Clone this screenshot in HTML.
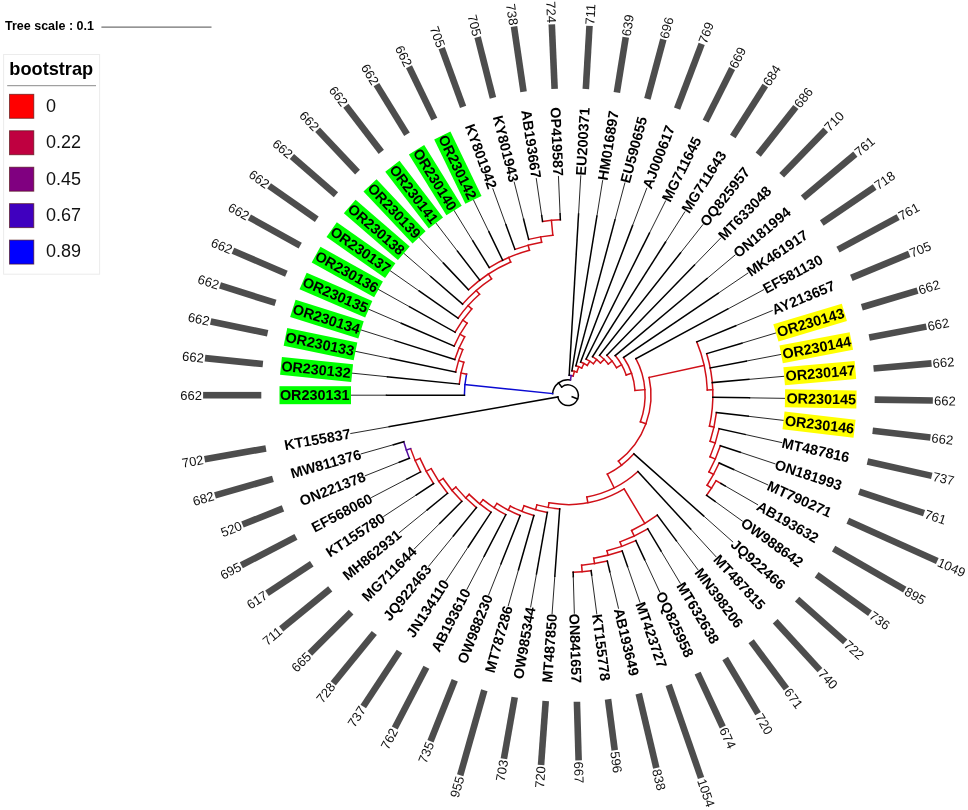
<!DOCTYPE html>
<html><head><meta charset="utf-8"><title>Tree</title>
<style>
html,body{margin:0;padding:0;background:#fff;}
svg{display:block;}
text{font-family:"Liberation Sans",Arial,Helvetica,sans-serif;fill:#000;}
.lab{font-size:14.4px;font-weight:bold;}
.val{font-size:13.0px;fill:#111;}
.ts{font-size:12.5px;font-weight:bold;}
.lt{font-size:18.2px;font-weight:bold;}
.ll{font-size:18px;fill:#111;}
</style></head><body>
<svg width="968" height="810" viewBox="0 0 968 810">
<rect width="968" height="810" fill="#fff"/>
<g stroke-linecap="square">
<path d="M561.73 387.03A10.30 10.30 0 1 1 557.86 396.99" fill="none" stroke="#000" stroke-width="1.5"/>
<line x1="561.73" y1="387.03" x2="558.57" y2="382.90" stroke="#000" stroke-width="1.5"/>
<path d="M552.58 393.62A15.50 15.50 0 0 1 570.47 379.90" fill="none" stroke="#000" stroke-width="1.5"/>
<line x1="552.58" y1="393.62" x2="464.94" y2="384.64" stroke="#0a0ad2" stroke-width="1.5"/>
<path d="M464.40 395.20A103.60 103.60 0 0 1 466.55 374.19" fill="none" stroke="#0a0ad2" stroke-width="1.5"/>
<line x1="464.40" y1="395.20" x2="386.50" y2="395.20" stroke="#000" stroke-width="1.5"/>
<line x1="386.50" y1="395.20" x2="351.00" y2="395.20" stroke="#111" stroke-width="0.9"/>
<line x1="466.55" y1="374.19" x2="460.97" y2="373.04" stroke="#d01018" stroke-width="1.5"/>
<path d="M459.27 384.09A109.30 109.30 0 0 1 463.80 362.21" fill="none" stroke="#d01018" stroke-width="1.5"/>
<line x1="459.27" y1="384.09" x2="387.44" y2="376.75" stroke="#000" stroke-width="1.5"/>
<line x1="387.44" y1="376.75" x2="352.12" y2="373.15" stroke="#111" stroke-width="0.9"/>
<line x1="463.80" y1="362.21" x2="458.65" y2="360.58" stroke="#d01018" stroke-width="1.5"/>
<path d="M455.67 372.01A114.70 114.70 0 0 1 462.78 349.53" fill="none" stroke="#d01018" stroke-width="1.5"/>
<line x1="455.67" y1="372.01" x2="390.25" y2="358.50" stroke="#000" stroke-width="1.5"/>
<line x1="390.25" y1="358.50" x2="355.48" y2="351.32" stroke="#111" stroke-width="0.9"/>
<line x1="462.78" y1="349.53" x2="459.12" y2="347.94" stroke="#d01018" stroke-width="1.5"/>
<path d="M454.79 359.51A118.70 118.70 0 0 1 464.62 336.88" fill="none" stroke="#d01018" stroke-width="1.5"/>
<line x1="454.79" y1="359.51" x2="394.90" y2="340.62" stroke="#000" stroke-width="1.5"/>
<line x1="394.90" y1="340.62" x2="361.04" y2="329.95" stroke="#111" stroke-width="0.9"/>
<line x1="464.62" y1="336.88" x2="460.00" y2="334.27" stroke="#d01018" stroke-width="1.5"/>
<path d="M454.14 346.09A124.00 124.00 0 0 1 467.08 323.15" fill="none" stroke="#d01018" stroke-width="1.5"/>
<line x1="454.14" y1="346.09" x2="401.34" y2="323.31" stroke="#000" stroke-width="1.5"/>
<line x1="401.34" y1="323.31" x2="368.75" y2="309.25" stroke="#111" stroke-width="0.9"/>
<line x1="467.08" y1="323.15" x2="462.77" y2="320.07" stroke="#d01018" stroke-width="1.5"/>
<path d="M455.09 332.19A129.30 129.30 0 0 1 471.73 308.88" fill="none" stroke="#d01018" stroke-width="1.5"/>
<line x1="455.09" y1="332.19" x2="409.51" y2="306.75" stroke="#000" stroke-width="1.5"/>
<line x1="409.51" y1="306.75" x2="378.51" y2="289.44" stroke="#111" stroke-width="0.9"/>
<line x1="471.73" y1="308.88" x2="468.08" y2="305.61" stroke="#d01018" stroke-width="1.5"/>
<path d="M458.07 318.23A134.20 134.20 0 0 1 479.54 294.28" fill="none" stroke="#d01018" stroke-width="1.5"/>
<line x1="458.07" y1="318.23" x2="419.32" y2="291.10" stroke="#000" stroke-width="1.5"/>
<line x1="419.32" y1="291.10" x2="390.24" y2="270.73" stroke="#111" stroke-width="0.9"/>
<line x1="479.54" y1="294.28" x2="476.18" y2="290.45" stroke="#d01018" stroke-width="1.5"/>
<path d="M462.60 304.12A139.30 139.30 0 0 1 491.51 278.78" fill="none" stroke="#d01018" stroke-width="1.5"/>
<line x1="462.60" y1="304.12" x2="430.67" y2="276.52" stroke="#000" stroke-width="1.5"/>
<line x1="430.67" y1="276.52" x2="403.81" y2="253.31" stroke="#111" stroke-width="0.9"/>
<line x1="491.51" y1="278.78" x2="488.38" y2="274.02" stroke="#d01018" stroke-width="1.5"/>
<path d="M468.49 289.73A145.00 145.00 0 0 1 510.69 262.01" fill="none" stroke="#d01018" stroke-width="1.5"/>
<line x1="468.49" y1="289.73" x2="443.45" y2="263.18" stroke="#000" stroke-width="1.5"/>
<line x1="443.45" y1="263.18" x2="419.09" y2="237.36" stroke="#111" stroke-width="0.9"/>
<line x1="479.73" y1="280.16" x2="457.51" y2="251.21" stroke="#000" stroke-width="1.5"/>
<line x1="457.51" y1="251.21" x2="435.90" y2="223.04" stroke="#111" stroke-width="0.9"/>
<line x1="510.69" y1="262.01" x2="508.71" y2="257.41" stroke="#d01018" stroke-width="1.5"/>
<path d="M489.25 267.53A150.00 150.00 0 0 1 529.44 250.24" fill="none" stroke="#d01018" stroke-width="1.5"/>
<line x1="489.25" y1="267.53" x2="472.72" y2="240.72" stroke="#000" stroke-width="1.5"/>
<line x1="472.72" y1="240.72" x2="454.08" y2="210.51" stroke="#111" stroke-width="0.9"/>
<line x1="502.64" y1="260.19" x2="488.91" y2="231.84" stroke="#000" stroke-width="1.5"/>
<line x1="488.91" y1="231.84" x2="473.44" y2="199.89" stroke="#111" stroke-width="0.9"/>
<line x1="529.44" y1="250.24" x2="528.10" y2="245.22" stroke="#d01018" stroke-width="1.5"/>
<path d="M514.92 249.36A155.20 155.20 0 0 1 541.61 242.26" fill="none" stroke="#d01018" stroke-width="1.5"/>
<line x1="514.92" y1="249.36" x2="505.92" y2="224.65" stroke="#000" stroke-width="1.5"/>
<line x1="505.92" y1="224.65" x2="492.84" y2="188.70" stroke="#111" stroke-width="0.9"/>
<line x1="541.61" y1="242.26" x2="540.67" y2="236.84" stroke="#d01018" stroke-width="1.5"/>
<path d="M528.67 239.39A160.70 160.70 0 0 1 552.83 235.22" fill="none" stroke="#d01018" stroke-width="1.5"/>
<line x1="528.67" y1="239.39" x2="523.58" y2="219.22" stroke="#000" stroke-width="1.5"/>
<line x1="523.58" y1="219.22" x2="514.22" y2="182.13" stroke="#111" stroke-width="0.9"/>
<line x1="552.83" y1="235.22" x2="551.42" y2="220.38" stroke="#d01018" stroke-width="1.5"/>
<path d="M542.55 221.45A175.60 175.60 0 0 1 560.34 219.77" fill="none" stroke="#d01018" stroke-width="1.5"/>
<line x1="542.55" y1="221.45" x2="541.69" y2="215.62" stroke="#000" stroke-width="1.5"/>
<line x1="541.69" y1="215.62" x2="536.27" y2="178.56" stroke="#111" stroke-width="0.9"/>
<line x1="560.34" y1="219.77" x2="560.08" y2="213.87" stroke="#000" stroke-width="1.5"/>
<line x1="560.08" y1="213.87" x2="558.45" y2="176.46" stroke="#111" stroke-width="0.9"/>
<line x1="570.47" y1="379.90" x2="571.18" y2="375.56" stroke="#520c9e" stroke-width="1.5"/>
<path d="M569.16 375.33A19.90 19.90 0 0 1 573.16 375.98" fill="none" stroke="#520c9e" stroke-width="1.5"/>
<line x1="569.16" y1="375.33" x2="578.55" y2="214.01" stroke="#000" stroke-width="1.5"/>
<line x1="578.55" y1="214.01" x2="580.78" y2="175.82" stroke="#111" stroke-width="0.9"/>
<line x1="573.16" y1="375.98" x2="574.41" y2="371.35" stroke="#d01018" stroke-width="1.5"/>
<path d="M571.93 370.82A24.70 24.70 0 0 1 576.81 372.13" fill="none" stroke="#d01018" stroke-width="1.5"/>
<line x1="571.93" y1="370.82" x2="596.91" y2="216.02" stroke="#000" stroke-width="1.5"/>
<line x1="596.91" y1="216.02" x2="602.63" y2="180.62" stroke="#111" stroke-width="0.9"/>
<line x1="576.81" y1="372.13" x2="578.85" y2="366.80" stroke="#d01018" stroke-width="1.5"/>
<path d="M575.87 365.84A30.40 30.40 0 0 1 581.71 368.07" fill="none" stroke="#d01018" stroke-width="1.5"/>
<line x1="575.87" y1="365.84" x2="614.98" y2="219.88" stroke="#000" stroke-width="1.5"/>
<line x1="614.98" y1="219.88" x2="624.88" y2="182.94" stroke="#111" stroke-width="0.9"/>
<line x1="581.71" y1="368.07" x2="584.01" y2="363.52" stroke="#d01018" stroke-width="1.5"/>
<path d="M580.63 362.02A35.50 35.50 0 0 1 587.22 365.36" fill="none" stroke="#d01018" stroke-width="1.5"/>
<line x1="580.63" y1="362.02" x2="632.55" y2="225.57" stroke="#000" stroke-width="1.5"/>
<line x1="632.55" y1="225.57" x2="646.72" y2="188.33" stroke="#111" stroke-width="0.9"/>
<line x1="587.22" y1="365.36" x2="589.88" y2="361.24" stroke="#d01018" stroke-width="1.5"/>
<path d="M586.13 359.10A40.40 40.40 0 0 1 593.37 363.76" fill="none" stroke="#d01018" stroke-width="1.5"/>
<line x1="586.13" y1="359.10" x2="649.46" y2="233.01" stroke="#000" stroke-width="1.5"/>
<line x1="649.46" y1="233.01" x2="665.55" y2="200.97" stroke="#111" stroke-width="0.9"/>
<line x1="593.37" y1="363.76" x2="596.70" y2="359.64" stroke="#d01018" stroke-width="1.5"/>
<path d="M592.55 356.66A45.70 45.70 0 0 1 600.49 363.06" fill="none" stroke="#d01018" stroke-width="1.5"/>
<line x1="592.55" y1="356.66" x2="665.52" y2="242.12" stroke="#000" stroke-width="1.5"/>
<line x1="665.52" y1="242.12" x2="684.78" y2="211.89" stroke="#111" stroke-width="0.9"/>
<line x1="600.49" y1="363.06" x2="604.19" y2="359.41" stroke="#d01018" stroke-width="1.5"/>
<path d="M599.57 355.27A50.90 50.90 0 0 1 608.27 364.07" fill="none" stroke="#d01018" stroke-width="1.5"/>
<line x1="599.57" y1="355.27" x2="680.57" y2="252.83" stroke="#000" stroke-width="1.5"/>
<line x1="680.57" y1="252.83" x2="702.81" y2="224.71" stroke="#111" stroke-width="0.9"/>
<line x1="608.27" y1="364.07" x2="612.15" y2="361.08" stroke="#d01018" stroke-width="1.5"/>
<path d="M606.88 355.17A55.80 55.80 0 0 1 616.53 367.67" fill="none" stroke="#d01018" stroke-width="1.5"/>
<line x1="606.88" y1="355.17" x2="694.46" y2="265.01" stroke="#000" stroke-width="1.5"/>
<line x1="694.46" y1="265.01" x2="720.56" y2="238.13" stroke="#111" stroke-width="0.9"/>
<line x1="616.53" y1="367.67" x2="621.58" y2="364.80" stroke="#d01018" stroke-width="1.5"/>
<path d="M615.19 355.60A61.60 61.60 0 0 1 626.20 375.01" fill="none" stroke="#d01018" stroke-width="1.5"/>
<line x1="615.19" y1="355.60" x2="707.04" y2="278.53" stroke="#000" stroke-width="1.5"/>
<line x1="707.04" y1="278.53" x2="735.12" y2="254.97" stroke="#111" stroke-width="0.9"/>
<line x1="626.20" y1="375.01" x2="631.49" y2="373.17" stroke="#d01018" stroke-width="1.5"/>
<path d="M623.60 357.46A67.20 67.20 0 0 1 635.03 390.39" fill="none" stroke="#d01018" stroke-width="1.5"/>
<line x1="623.60" y1="357.46" x2="718.17" y2="293.27" stroke="#000" stroke-width="1.5"/>
<line x1="718.17" y1="293.27" x2="747.84" y2="273.13" stroke="#111" stroke-width="0.9"/>
<line x1="635.03" y1="390.39" x2="644.90" y2="389.68" stroke="#d01018" stroke-width="1.5"/>
<path d="M635.86 358.61A77.10 77.10 0 0 1 640.39 421.73" fill="none" stroke="#d01018" stroke-width="1.5"/>
<line x1="635.86" y1="358.61" x2="727.76" y2="309.06" stroke="#000" stroke-width="1.5"/>
<line x1="727.76" y1="309.06" x2="763.53" y2="289.77" stroke="#111" stroke-width="0.9"/>
<line x1="640.39" y1="421.73" x2="645.93" y2="423.76" stroke="#d01018" stroke-width="1.5"/>
<path d="M649.08 377.47A83.00 83.00 0 0 1 618.42 461.13" fill="none" stroke="#d01018" stroke-width="1.5"/>
<line x1="649.08" y1="377.47" x2="704.18" y2="365.42" stroke="#d01018" stroke-width="1.5"/>
<path d="M696.79 341.85A139.40 139.40 0 0 1 707.30 389.91" fill="none" stroke="#d01018" stroke-width="1.5"/>
<line x1="696.79" y1="341.85" x2="735.68" y2="325.74" stroke="#000" stroke-width="1.5"/>
<line x1="735.68" y1="325.74" x2="772.24" y2="310.60" stroke="#111" stroke-width="0.9"/>
<line x1="707.30" y1="389.91" x2="712.70" y2="389.71" stroke="#d01018" stroke-width="1.5"/>
<path d="M706.72 353.67A144.80 144.80 0 0 1 709.47 426.09" fill="none" stroke="#d01018" stroke-width="1.5"/>
<line x1="706.72" y1="353.67" x2="741.88" y2="343.15" stroke="#000" stroke-width="1.5"/>
<line x1="741.88" y1="343.15" x2="775.88" y2="332.96" stroke="#111" stroke-width="0.9"/>
<line x1="710.22" y1="367.98" x2="746.27" y2="361.09" stroke="#000" stroke-width="1.5"/>
<line x1="746.27" y1="361.09" x2="781.13" y2="354.41" stroke="#111" stroke-width="0.9"/>
<line x1="712.25" y1="382.58" x2="748.81" y2="379.38" stroke="#000" stroke-width="1.5"/>
<line x1="748.81" y1="379.38" x2="784.17" y2="376.29" stroke="#111" stroke-width="0.9"/>
<line x1="712.78" y1="397.31" x2="749.48" y2="397.84" stroke="#000" stroke-width="1.5"/>
<line x1="749.48" y1="397.84" x2="784.98" y2="398.36" stroke="#111" stroke-width="0.9"/>
<line x1="709.47" y1="426.09" x2="713.96" y2="427.07" stroke="#d01018" stroke-width="1.5"/>
<path d="M716.39 412.54A149.40 149.40 0 0 1 710.11 441.29" fill="none" stroke="#d01018" stroke-width="1.5"/>
<line x1="716.39" y1="412.54" x2="748.27" y2="416.27" stroke="#000" stroke-width="1.5"/>
<line x1="748.27" y1="416.27" x2="783.53" y2="420.39" stroke="#111" stroke-width="0.9"/>
<line x1="710.11" y1="441.29" x2="715.25" y2="442.96" stroke="#d01018" stroke-width="1.5"/>
<path d="M719.13 428.70A154.80 154.80 0 0 1 710.03 456.77" fill="none" stroke="#d01018" stroke-width="1.5"/>
<line x1="719.13" y1="428.70" x2="745.20" y2="434.48" stroke="#000" stroke-width="1.5"/>
<line x1="745.20" y1="434.48" x2="781.77" y2="442.59" stroke="#111" stroke-width="0.9"/>
<line x1="710.03" y1="456.77" x2="715.26" y2="459.04" stroke="#d01018" stroke-width="1.5"/>
<path d="M720.35 445.68A160.50 160.50 0 0 1 708.99 471.89" fill="none" stroke="#d01018" stroke-width="1.5"/>
<line x1="720.35" y1="445.68" x2="740.29" y2="452.29" stroke="#000" stroke-width="1.5"/>
<line x1="740.29" y1="452.29" x2="775.08" y2="463.82" stroke="#111" stroke-width="0.9"/>
<line x1="708.99" y1="471.89" x2="713.56" y2="474.37" stroke="#d01018" stroke-width="1.5"/>
<path d="M719.18 463.04A165.70 165.70 0 0 1 707.10 485.24" fill="none" stroke="#d01018" stroke-width="1.5"/>
<line x1="719.18" y1="463.04" x2="733.59" y2="469.50" stroke="#000" stroke-width="1.5"/>
<line x1="733.59" y1="469.50" x2="767.77" y2="484.84" stroke="#111" stroke-width="0.9"/>
<line x1="707.10" y1="485.24" x2="711.55" y2="488.12" stroke="#d01018" stroke-width="1.5"/>
<path d="M716.09 480.70A171.00 171.00 0 0 1 706.63 495.31" fill="none" stroke="#d01018" stroke-width="1.5"/>
<line x1="716.09" y1="480.70" x2="720.94" y2="483.50" stroke="#d01018" stroke-width="1.5"/>
<line x1="720.94" y1="483.50" x2="725.18" y2="485.95" stroke="#000" stroke-width="1.5"/>
<line x1="725.18" y1="485.95" x2="757.62" y2="504.68" stroke="#111" stroke-width="0.9"/>
<line x1="706.63" y1="495.31" x2="715.15" y2="501.46" stroke="#000" stroke-width="1.5"/>
<line x1="715.15" y1="501.46" x2="742.27" y2="521.04" stroke="#111" stroke-width="0.9"/>
<line x1="618.42" y1="461.13" x2="621.58" y2="465.26" stroke="#d01018" stroke-width="1.5"/>
<path d="M633.89 453.83A88.20 88.20 0 0 1 607.33 474.15" fill="none" stroke="#d01018" stroke-width="1.5"/>
<line x1="633.89" y1="453.83" x2="703.59" y2="515.86" stroke="#000" stroke-width="1.5"/>
<line x1="703.59" y1="515.86" x2="732.75" y2="541.82" stroke="#111" stroke-width="0.9"/>
<line x1="607.33" y1="474.15" x2="614.15" y2="487.84" stroke="#d01018" stroke-width="1.5"/>
<path d="M637.92 471.51A103.50 103.50 0 0 1 586.80 496.98" fill="none" stroke="#d01018" stroke-width="1.5"/>
<line x1="637.92" y1="471.51" x2="690.62" y2="529.02" stroke="#000" stroke-width="1.5"/>
<line x1="690.62" y1="529.02" x2="715.93" y2="556.64" stroke="#111" stroke-width="0.9"/>
<line x1="586.80" y1="496.98" x2="587.85" y2="502.68" stroke="#d01018" stroke-width="1.5"/>
<path d="M624.17 488.96A109.30 109.30 0 0 1 549.02 502.84" fill="none" stroke="#d01018" stroke-width="1.5"/>
<line x1="624.17" y1="488.96" x2="644.83" y2="523.45" stroke="#d01018" stroke-width="1.5"/>
<path d="M657.28 515.12A149.50 149.50 0 0 1 631.61 530.49" fill="none" stroke="#d01018" stroke-width="1.5"/>
<line x1="657.28" y1="515.12" x2="676.38" y2="540.79" stroke="#000" stroke-width="1.5"/>
<line x1="676.38" y1="540.79" x2="697.80" y2="569.55" stroke="#111" stroke-width="0.9"/>
<line x1="631.61" y1="530.49" x2="634.21" y2="536.01" stroke="#d01018" stroke-width="1.5"/>
<path d="M647.75 528.81A155.60 155.60 0 0 1 620.02 541.85" fill="none" stroke="#d01018" stroke-width="1.5"/>
<line x1="647.75" y1="528.81" x2="661.03" y2="551.05" stroke="#000" stroke-width="1.5"/>
<line x1="661.03" y1="551.05" x2="680.23" y2="583.22" stroke="#111" stroke-width="0.9"/>
<line x1="620.02" y1="541.85" x2="621.63" y2="546.37" stroke="#d01018" stroke-width="1.5"/>
<path d="M635.79 540.57A160.40 160.40 0 0 1 606.97 550.79" fill="none" stroke="#d01018" stroke-width="1.5"/>
<line x1="635.79" y1="540.57" x2="644.71" y2="559.69" stroke="#000" stroke-width="1.5"/>
<line x1="644.71" y1="559.69" x2="659.86" y2="592.19" stroke="#111" stroke-width="0.9"/>
<line x1="606.97" y1="550.79" x2="608.09" y2="555.26" stroke="#d01018" stroke-width="1.5"/>
<path d="M622.17 551.05A165.00 165.00 0 0 1 593.69 558.19" fill="none" stroke="#d01018" stroke-width="1.5"/>
<line x1="622.17" y1="551.05" x2="627.59" y2="566.64" stroke="#000" stroke-width="1.5"/>
<line x1="627.59" y1="566.64" x2="639.89" y2="602.03" stroke="#111" stroke-width="0.9"/>
<line x1="593.69" y1="558.19" x2="594.55" y2="563.62" stroke="#d01018" stroke-width="1.5"/>
<path d="M607.32 561.10A170.50 170.50 0 0 1 581.62 565.15" fill="none" stroke="#d01018" stroke-width="1.5"/>
<line x1="607.32" y1="561.10" x2="609.86" y2="571.81" stroke="#000" stroke-width="1.5"/>
<line x1="609.86" y1="571.81" x2="618.49" y2="608.25" stroke="#111" stroke-width="0.9"/>
<line x1="581.62" y1="565.15" x2="582.14" y2="571.63" stroke="#d01018" stroke-width="1.5"/>
<path d="M591.10 570.69A177.00 177.00 0 0 1 573.15 572.13" fill="none" stroke="#d01018" stroke-width="1.5"/>
<line x1="591.10" y1="570.69" x2="591.69" y2="575.15" stroke="#000" stroke-width="1.5"/>
<line x1="591.69" y1="575.15" x2="596.79" y2="613.87" stroke="#111" stroke-width="0.9"/>
<line x1="573.15" y1="572.13" x2="573.28" y2="576.62" stroke="#000" stroke-width="1.5"/>
<line x1="573.28" y1="576.62" x2="574.34" y2="613.26" stroke="#111" stroke-width="0.9"/>
<line x1="549.02" y1="502.84" x2="548.21" y2="507.47" stroke="#d01018" stroke-width="1.5"/>
<path d="M559.72 508.90A114.00 114.00 0 0 1 536.90 504.88" fill="none" stroke="#d01018" stroke-width="1.5"/>
<line x1="559.72" y1="508.90" x2="554.81" y2="576.22" stroke="#000" stroke-width="1.5"/>
<line x1="554.81" y1="576.22" x2="552.09" y2="613.58" stroke="#111" stroke-width="0.9"/>
<line x1="536.90" y1="504.88" x2="535.54" y2="509.69" stroke="#d01018" stroke-width="1.5"/>
<path d="M547.34 512.39A119.00 119.00 0 0 1 524.08 505.80" fill="none" stroke="#d01018" stroke-width="1.5"/>
<line x1="547.34" y1="512.39" x2="536.48" y2="573.94" stroke="#000" stroke-width="1.5"/>
<line x1="536.48" y1="573.94" x2="530.67" y2="606.90" stroke="#111" stroke-width="0.9"/>
<line x1="524.08" y1="505.80" x2="521.86" y2="511.37" stroke="#d01018" stroke-width="1.5"/>
<path d="M533.90 515.46A125.00 125.00 0 0 1 510.30 506.09" fill="none" stroke="#d01018" stroke-width="1.5"/>
<line x1="533.90" y1="515.46" x2="518.48" y2="569.81" stroke="#000" stroke-width="1.5"/>
<line x1="518.48" y1="569.81" x2="508.26" y2="605.86" stroke="#111" stroke-width="0.9"/>
<line x1="510.30" y1="506.09" x2="508.23" y2="510.08" stroke="#d01018" stroke-width="1.5"/>
<path d="M520.19 515.55A129.50 129.50 0 0 1 496.88 503.42" fill="none" stroke="#d01018" stroke-width="1.5"/>
<line x1="520.19" y1="515.55" x2="500.99" y2="563.88" stroke="#000" stroke-width="1.5"/>
<line x1="500.99" y1="563.88" x2="488.64" y2="594.97" stroke="#111" stroke-width="0.9"/>
<line x1="496.88" y1="503.42" x2="494.03" y2="507.77" stroke="#d01018" stroke-width="1.5"/>
<path d="M505.80 514.68A134.70 134.70 0 0 1 483.01 499.70" fill="none" stroke="#d01018" stroke-width="1.5"/>
<line x1="505.80" y1="514.68" x2="484.19" y2="556.19" stroke="#000" stroke-width="1.5"/>
<line x1="484.19" y1="556.19" x2="466.90" y2="589.42" stroke="#111" stroke-width="0.9"/>
<line x1="483.01" y1="499.70" x2="479.67" y2="503.81" stroke="#d01018" stroke-width="1.5"/>
<path d="M491.07 512.17A140.00 140.00 0 0 1 469.16 494.35" fill="none" stroke="#d01018" stroke-width="1.5"/>
<line x1="491.07" y1="512.17" x2="468.26" y2="546.84" stroke="#000" stroke-width="1.5"/>
<line x1="468.26" y1="546.84" x2="445.93" y2="580.80" stroke="#111" stroke-width="0.9"/>
<line x1="469.16" y1="494.35" x2="465.63" y2="497.89" stroke="#d01018" stroke-width="1.5"/>
<path d="M476.42 507.62A145.00 145.00 0 0 1 455.87 487.14" fill="none" stroke="#d01018" stroke-width="1.5"/>
<line x1="476.42" y1="507.62" x2="453.37" y2="535.92" stroke="#000" stroke-width="1.5"/>
<line x1="453.37" y1="535.92" x2="428.71" y2="566.19" stroke="#111" stroke-width="0.9"/>
<line x1="455.87" y1="487.14" x2="451.93" y2="490.37" stroke="#d01018" stroke-width="1.5"/>
<path d="M461.86 501.34A150.10 150.10 0 0 1 443.12 478.48" fill="none" stroke="#d01018" stroke-width="1.5"/>
<line x1="461.86" y1="501.34" x2="439.66" y2="523.54" stroke="#000" stroke-width="1.5"/>
<line x1="439.66" y1="523.54" x2="414.31" y2="548.89" stroke="#111" stroke-width="0.9"/>
<line x1="443.12" y1="478.48" x2="438.79" y2="481.36" stroke="#d01018" stroke-width="1.5"/>
<path d="M447.59 493.28A155.30 155.30 0 0 1 431.17 468.66" fill="none" stroke="#d01018" stroke-width="1.5"/>
<line x1="447.59" y1="493.28" x2="427.28" y2="509.83" stroke="#000" stroke-width="1.5"/>
<line x1="427.28" y1="509.83" x2="399.48" y2="532.48" stroke="#111" stroke-width="0.9"/>
<line x1="431.17" y1="468.66" x2="426.24" y2="471.31" stroke="#d01018" stroke-width="1.5"/>
<path d="M433.57 483.62A160.90 160.90 0 0 1 420.03 458.39" fill="none" stroke="#d01018" stroke-width="1.5"/>
<line x1="433.57" y1="483.62" x2="416.36" y2="494.94" stroke="#000" stroke-width="1.5"/>
<line x1="416.36" y1="494.94" x2="383.73" y2="516.40" stroke="#111" stroke-width="0.9"/>
<line x1="420.03" y1="458.39" x2="415.15" y2="460.47" stroke="#d01018" stroke-width="1.5"/>
<path d="M420.58 471.94A166.20 166.20 0 0 1 410.62 448.62" fill="none" stroke="#d01018" stroke-width="1.5"/>
<line x1="420.58" y1="471.94" x2="407.01" y2="479.01" stroke="#000" stroke-width="1.5"/>
<line x1="407.01" y1="479.01" x2="371.66" y2="497.41" stroke="#111" stroke-width="0.9"/>
<line x1="410.62" y1="448.62" x2="406.36" y2="450.07" stroke="#520c9e" stroke-width="1.5"/>
<path d="M409.36 458.22A170.70 170.70 0 0 1 403.78 441.77" fill="none" stroke="#520c9e" stroke-width="1.5"/>
<line x1="409.36" y1="458.22" x2="399.32" y2="462.21" stroke="#000" stroke-width="1.5"/>
<line x1="399.32" y1="462.21" x2="365.26" y2="475.74" stroke="#111" stroke-width="0.9"/>
<line x1="403.78" y1="441.77" x2="393.39" y2="444.72" stroke="#000" stroke-width="1.5"/>
<line x1="393.39" y1="444.72" x2="361.19" y2="453.85" stroke="#111" stroke-width="0.9"/>
<line x1="557.86" y1="396.99" x2="389.26" y2="426.72" stroke="#000" stroke-width="1.5"/>
<line x1="389.26" y1="426.72" x2="350.79" y2="433.50" stroke="#111" stroke-width="0.9"/>
<line x1="577.60" y1="398.93" x2="572.19" y2="396.83" stroke="#000" stroke-width="1.5"/>
<rect transform="translate(568.0 395.2) rotate(180.000)" x="217.0" y="-9.0" width="71.5" height="18.0" fill="#00ff00"/>
<text transform="translate(279.90 395.20) rotate(0.000)" y="4.97" class="lab">OR230131</text>
<rect transform="translate(568.0 395.2) rotate(180.000)" x="306.7" y="-3.3" width="58.19" height="6.6" fill="#4d4d4d"/>
<text transform="translate(201.91 395.20) rotate(0.000)" y="4.65" text-anchor="end" class="val">662</text>
<rect transform="translate(568.0 395.2) rotate(185.833)" x="217.0" y="-9.0" width="71.5" height="18.0" fill="#00ff00"/>
<text transform="translate(281.39 365.92) rotate(5.833)" y="4.97" class="lab">OR230132</text>
<rect transform="translate(568.0 395.2) rotate(185.833)" x="306.7" y="-3.3" width="58.19" height="6.6" fill="#4d4d4d"/>
<text transform="translate(203.81 357.99) rotate(5.833)" y="4.65" text-anchor="end" class="val">662</text>
<rect transform="translate(568.0 395.2) rotate(191.667)" x="217.0" y="-9.0" width="71.5" height="18.0" fill="#00ff00"/>
<text transform="translate(285.85 336.94) rotate(11.667)" y="4.97" class="lab">OR230133</text>
<rect transform="translate(568.0 395.2) rotate(191.667)" x="306.7" y="-3.3" width="58.19" height="6.6" fill="#4d4d4d"/>
<text transform="translate(209.48 321.17) rotate(11.667)" y="4.65" text-anchor="end" class="val">662</text>
<rect transform="translate(568.0 395.2) rotate(197.500)" x="217.0" y="-9.0" width="71.5" height="18.0" fill="#00ff00"/>
<text transform="translate(293.23 308.57) rotate(17.500)" y="4.97" class="lab">OR230134</text>
<rect transform="translate(568.0 395.2) rotate(197.500)" x="306.7" y="-3.3" width="58.19" height="6.6" fill="#4d4d4d"/>
<text transform="translate(218.86 285.12) rotate(17.500)" y="4.65" text-anchor="end" class="val">662</text>
<rect transform="translate(568.0 395.2) rotate(203.333)" x="217.0" y="-9.0" width="71.5" height="18.0" fill="#00ff00"/>
<text transform="translate(303.46 281.09) rotate(23.333)" y="4.97" class="lab">OR230135</text>
<rect transform="translate(568.0 395.2) rotate(203.333)" x="306.7" y="-3.3" width="58.19" height="6.6" fill="#4d4d4d"/>
<text transform="translate(231.85 250.20) rotate(23.333)" y="4.65" text-anchor="end" class="val">662</text>
<rect transform="translate(568.0 395.2) rotate(209.167)" x="217.0" y="-9.0" width="71.5" height="18.0" fill="#00ff00"/>
<text transform="translate(316.43 254.79) rotate(29.167)" y="4.97" class="lab">OR230136</text>
<rect transform="translate(568.0 395.2) rotate(209.167)" x="306.7" y="-3.3" width="58.19" height="6.6" fill="#4d4d4d"/>
<text transform="translate(248.33 216.79) rotate(29.167)" y="4.65" text-anchor="end" class="val">662</text>
<rect transform="translate(568.0 395.2) rotate(215.000)" x="217.0" y="-9.0" width="71.5" height="18.0" fill="#00ff00"/>
<text transform="translate(332.00 229.95) rotate(35.000)" y="4.97" class="lab">OR230137</text>
<rect transform="translate(568.0 395.2) rotate(215.000)" x="306.7" y="-3.3" width="58.19" height="6.6" fill="#4d4d4d"/>
<text transform="translate(268.12 185.22) rotate(35.000)" y="4.65" text-anchor="end" class="val">662</text>
<rect transform="translate(568.0 395.2) rotate(220.833)" x="217.0" y="-9.0" width="71.5" height="18.0" fill="#00ff00"/>
<text transform="translate(350.02 206.82) rotate(40.833)" y="4.97" class="lab">OR230138</text>
<rect transform="translate(568.0 395.2) rotate(220.833)" x="306.7" y="-3.3" width="58.19" height="6.6" fill="#4d4d4d"/>
<text transform="translate(291.01 155.83) rotate(40.833)" y="4.65" text-anchor="end" class="val">662</text>
<rect transform="translate(568.0 395.2) rotate(226.667)" x="217.0" y="-9.0" width="71.5" height="18.0" fill="#00ff00"/>
<text transform="translate(370.29 185.64) rotate(46.667)" y="4.97" class="lab">OR230139</text>
<rect transform="translate(568.0 395.2) rotate(226.667)" x="306.7" y="-3.3" width="58.19" height="6.6" fill="#4d4d4d"/>
<text transform="translate(316.78 128.92) rotate(46.667)" y="4.65" text-anchor="end" class="val">662</text>
<rect transform="translate(568.0 395.2) rotate(232.500)" x="217.0" y="-9.0" width="71.5" height="18.0" fill="#00ff00"/>
<text transform="translate(392.62 166.63) rotate(52.500)" y="4.97" class="lab">OR230141</text>
<rect transform="translate(568.0 395.2) rotate(232.500)" x="306.7" y="-3.3" width="58.19" height="6.6" fill="#4d4d4d"/>
<text transform="translate(345.14 104.76) rotate(52.500)" y="4.65" text-anchor="end" class="val">662</text>
<rect transform="translate(568.0 395.2) rotate(238.333)" x="217.0" y="-9.0" width="71.5" height="18.0" fill="#00ff00"/>
<text transform="translate(416.75 149.99) rotate(58.333)" y="4.97" class="lab">OR230140</text>
<rect transform="translate(568.0 395.2) rotate(238.333)" x="306.7" y="-3.3" width="58.19" height="6.6" fill="#4d4d4d"/>
<text transform="translate(375.81 83.62) rotate(58.333)" y="4.65" text-anchor="end" class="val">662</text>
<rect transform="translate(568.0 395.2) rotate(244.167)" x="217.0" y="-9.0" width="71.5" height="18.0" fill="#00ff00"/>
<text transform="translate(442.46 135.89) rotate(64.167)" y="4.97" class="lab">OR230142</text>
<rect transform="translate(568.0 395.2) rotate(244.167)" x="306.7" y="-3.3" width="58.19" height="6.6" fill="#4d4d4d"/>
<text transform="translate(408.48 65.70) rotate(64.167)" y="4.65" text-anchor="end" class="val">662</text>
<text transform="translate(469.46 124.47) rotate(70.000)" y="4.97" class="lab">KY801942</text>
<rect transform="translate(568.0 395.2) rotate(250.000)" x="306.7" y="-3.3" width="62.61" height="6.6" fill="#4d4d4d"/>
<text transform="translate(441.28 47.03) rotate(70.000)" y="4.65" text-anchor="end" class="val">705</text>
<text transform="translate(497.49 115.86) rotate(75.833)" y="4.97" class="lab">KY801943</text>
<rect transform="translate(568.0 395.2) rotate(255.833)" x="306.7" y="-3.3" width="62.61" height="6.6" fill="#4d4d4d"/>
<text transform="translate(477.32 35.95) rotate(75.833)" y="4.65" text-anchor="end" class="val">705</text>
<text transform="translate(526.25 110.14) rotate(81.667)" y="4.97" class="lab">AB193667</text>
<rect transform="translate(568.0 395.2) rotate(261.667)" x="306.7" y="-3.3" width="66.01" height="6.6" fill="#4d4d4d"/>
<text transform="translate(513.81 25.23) rotate(81.667)" y="4.65" text-anchor="end" class="val">738</text>
<text transform="translate(555.43 107.37) rotate(87.500)" y="4.97" class="lab">OP419587</text>
<rect transform="translate(568.0 395.2) rotate(267.500)" x="306.7" y="-3.3" width="64.57" height="6.6" fill="#4d4d4d"/>
<text transform="translate(551.75 23.08) rotate(87.500)" y="4.65" text-anchor="end" class="val">724</text>
<text transform="translate(584.75 107.59) rotate(273.333)" y="4.97" text-anchor="end" class="lab">EU200371</text>
<rect transform="translate(568.0 395.2) rotate(273.333)" x="306.7" y="-3.3" width="63.23" height="6.6" fill="#4d4d4d"/>
<text transform="translate(589.58 24.69) rotate(273.333)" y="4.65" class="val">711</text>
<text transform="translate(613.90 110.78) rotate(279.167)" y="4.97" text-anchor="end" class="lab">HM016897</text>
<rect transform="translate(568.0 395.2) rotate(279.167)" x="306.7" y="-3.3" width="55.82" height="6.6" fill="#4d4d4d"/>
<text transform="translate(625.94 36.13) rotate(279.167)" y="4.65" class="val">639</text>
<text transform="translate(642.57 116.92) rotate(285.000)" y="4.97" text-anchor="end" class="lab">EU590655</text>
<rect transform="translate(568.0 395.2) rotate(285.000)" x="306.7" y="-3.3" width="61.69" height="6.6" fill="#4d4d4d"/>
<text transform="translate(663.66 38.21) rotate(285.000)" y="4.65" class="val">696</text>
<text transform="translate(670.46 125.94) rotate(290.833)" y="4.97" text-anchor="end" class="lab">AJ000617</text>
<rect transform="translate(568.0 395.2) rotate(290.833)" x="306.7" y="-3.3" width="69.21" height="6.6" fill="#4d4d4d"/>
<text transform="translate(702.12 42.75) rotate(290.833)" y="4.65" class="val">769</text>
<text transform="translate(697.30 137.74) rotate(296.667)" y="4.97" text-anchor="end" class="lab">MG711645</text>
<rect transform="translate(568.0 395.2) rotate(296.667)" x="306.7" y="-3.3" width="58.91" height="6.6" fill="#4d4d4d"/>
<text transform="translate(732.62 67.41) rotate(296.667)" y="4.65" class="val">669</text>
<text transform="translate(722.80 152.22) rotate(302.500)" y="4.97" text-anchor="end" class="lab">MG711643</text>
<rect transform="translate(568.0 395.2) rotate(302.500)" x="306.7" y="-3.3" width="60.45" height="6.6" fill="#4d4d4d"/>
<text transform="translate(765.92 84.54) rotate(302.500)" y="4.65" class="val">684</text>
<text transform="translate(746.69 169.21) rotate(308.333)" y="4.97" text-anchor="end" class="lab">OQ825957</text>
<rect transform="translate(568.0 395.2) rotate(308.333)" x="306.7" y="-3.3" width="60.66" height="6.6" fill="#4d4d4d"/>
<text transform="translate(796.59 106.10) rotate(308.333)" y="4.65" class="val">686</text>
<text transform="translate(768.73 188.54) rotate(314.167)" y="4.97" text-anchor="end" class="lab">MT633048</text>
<rect transform="translate(568.0 395.2) rotate(314.167)" x="306.7" y="-3.3" width="63.13" height="6.6" fill="#4d4d4d"/>
<text transform="translate(826.51 129.05) rotate(314.167)" y="4.65" class="val">710</text>
<text transform="translate(788.70 210.01) rotate(320.000)" y="4.97" text-anchor="end" class="lab">ON181994</text>
<rect transform="translate(568.0 395.2) rotate(320.000)" x="306.7" y="-3.3" width="68.38" height="6.6" fill="#4d4d4d"/>
<text transform="translate(856.25 153.33) rotate(320.000)" y="4.65" class="val">761</text>
<text transform="translate(806.38 233.40) rotate(325.833)" y="4.97" text-anchor="end" class="lab">MK461917</text>
<rect transform="translate(568.0 395.2) rotate(325.833)" x="306.7" y="-3.3" width="63.95" height="6.6" fill="#4d4d4d"/>
<text transform="translate(875.67 186.37) rotate(325.833)" y="4.65" class="val">718</text>
<text transform="translate(821.59 258.47) rotate(331.667)" y="4.97" text-anchor="end" class="lab">EF581130</text>
<rect transform="translate(568.0 395.2) rotate(331.667)" x="306.7" y="-3.3" width="68.38" height="6.6" fill="#4d4d4d"/>
<text transform="translate(899.20 216.62) rotate(331.667)" y="4.65" class="val">761</text>
<text transform="translate(834.17 284.95) rotate(337.500)" y="4.97" text-anchor="end" class="lab">AY213657</text>
<rect transform="translate(568.0 395.2) rotate(337.500)" x="306.7" y="-3.3" width="62.61" height="6.6" fill="#4d4d4d"/>
<text transform="translate(910.31 253.41) rotate(337.500)" y="4.65" class="val">705</text>
<rect transform="translate(568.0 395.2) rotate(343.333)" x="217.0" y="-9.0" width="71.5" height="18.0" fill="#ffff00"/>
<text transform="translate(844.00 312.57) rotate(343.333)" y="4.97" text-anchor="end" class="lab">OR230143</text>
<rect transform="translate(568.0 395.2) rotate(343.333)" x="306.7" y="-3.3" width="58.19" height="6.6" fill="#4d4d4d"/>
<text transform="translate(918.71 290.21) rotate(343.333)" y="4.65" class="val">662</text>
<rect transform="translate(568.0 395.2) rotate(349.167)" x="217.0" y="-9.0" width="71.5" height="18.0" fill="#ffff00"/>
<text transform="translate(850.97 341.05) rotate(349.167)" y="4.97" text-anchor="end" class="lab">OR230144</text>
<rect transform="translate(568.0 395.2) rotate(349.167)" x="306.7" y="-3.3" width="58.19" height="6.6" fill="#4d4d4d"/>
<text transform="translate(927.56 326.39) rotate(349.167)" y="4.65" class="val">662</text>
<rect transform="translate(568.0 395.2) rotate(355.000)" x="217.0" y="-9.0" width="71.5" height="18.0" fill="#ffff00"/>
<text transform="translate(855.00 370.09) rotate(355.000)" y="4.97" text-anchor="end" class="lab">OR230147</text>
<rect transform="translate(568.0 395.2) rotate(355.000)" x="306.7" y="-3.3" width="58.19" height="6.6" fill="#4d4d4d"/>
<text transform="translate(932.69 363.29) rotate(355.000)" y="4.65" class="val">662</text>
<rect transform="translate(568.0 395.2) rotate(0.833)" x="217.0" y="-9.0" width="71.5" height="18.0" fill="#ffff00"/>
<text transform="translate(856.07 399.39) rotate(0.833)" y="4.97" text-anchor="end" class="lab">OR230145</text>
<rect transform="translate(568.0 395.2) rotate(0.833)" x="306.7" y="-3.3" width="58.19" height="6.6" fill="#4d4d4d"/>
<text transform="translate(934.05 400.52) rotate(0.833)" y="4.65" class="val">662</text>
<rect transform="translate(568.0 395.2) rotate(6.667)" x="217.0" y="-9.0" width="71.5" height="18.0" fill="#ffff00"/>
<text transform="translate(854.15 428.65) rotate(6.667)" y="4.97" text-anchor="end" class="lab">OR230146</text>
<rect transform="translate(568.0 395.2) rotate(6.667)" x="306.7" y="-3.3" width="58.19" height="6.6" fill="#4d4d4d"/>
<text transform="translate(931.61 437.70) rotate(6.667)" y="4.65" class="val">662</text>
<text transform="translate(849.27 457.56) rotate(12.500)" y="4.97" text-anchor="end" class="lab">MT487816</text>
<rect transform="translate(568.0 395.2) rotate(12.500)" x="306.7" y="-3.3" width="65.91" height="6.6" fill="#4d4d4d"/>
<text transform="translate(932.95 476.11) rotate(12.500)" y="4.65" class="val">737</text>
<text transform="translate(841.48 485.82) rotate(18.333)" y="4.97" text-anchor="end" class="lab">ON181993</text>
<rect transform="translate(568.0 395.2) rotate(18.333)" x="306.7" y="-3.3" width="68.38" height="6.6" fill="#4d4d4d"/>
<text transform="translate(925.18 513.56) rotate(18.333)" y="4.65" class="val">761</text>
<text transform="translate(830.85 513.15) rotate(24.167)" y="4.97" text-anchor="end" class="lab">MT790271</text>
<rect transform="translate(568.0 395.2) rotate(24.167)" x="306.7" y="-3.3" width="98.05" height="6.6" fill="#4d4d4d"/>
<text transform="translate(938.37 561.39) rotate(24.167)" y="4.65" class="val">1049</text>
<text transform="translate(817.50 539.25) rotate(30.000)" y="4.97" text-anchor="end" class="lab">AB193632</text>
<rect transform="translate(568.0 395.2) rotate(30.000)" x="306.7" y="-3.3" width="82.18" height="6.6" fill="#4d4d4d"/>
<text transform="translate(905.82 590.24) rotate(30.000)" y="4.65" class="val">895</text>
<text transform="translate(801.57 563.86) rotate(35.833)" y="4.97" text-anchor="end" class="lab">OW988642</text>
<rect transform="translate(568.0 395.2) rotate(35.833)" x="306.7" y="-3.3" width="65.81" height="6.6" fill="#4d4d4d"/>
<text transform="translate(870.97 613.98) rotate(35.833)" y="4.65" class="val">736</text>
<text transform="translate(783.22 586.73) rotate(41.667)" y="4.97" text-anchor="end" class="lab">JQ922466</text>
<rect transform="translate(568.0 395.2) rotate(41.667)" x="306.7" y="-3.3" width="64.37" height="6.6" fill="#4d4d4d"/>
<text transform="translate(846.09 642.68) rotate(41.667)" y="4.65" class="val">722</text>
<text transform="translate(762.64 607.61) rotate(47.500)" y="4.97" text-anchor="end" class="lab">MT487815</text>
<rect transform="translate(568.0 395.2) rotate(47.500)" x="306.7" y="-3.3" width="66.22" height="6.6" fill="#4d4d4d"/>
<text transform="translate(820.75 671.03) rotate(47.500)" y="4.65" class="val">740</text>
<text transform="translate(740.04 626.29) rotate(53.333)" y="4.97" text-anchor="end" class="lab">MN398206</text>
<rect transform="translate(568.0 395.2) rotate(53.333)" x="306.7" y="-3.3" width="59.11" height="6.6" fill="#4d4d4d"/>
<text transform="translate(787.16 689.59) rotate(53.333)" y="4.65" class="val">671</text>
<text transform="translate(715.66 642.58) rotate(59.167)" y="4.97" text-anchor="end" class="lab">MT632638</text>
<rect transform="translate(568.0 395.2) rotate(59.167)" x="306.7" y="-3.3" width="64.16" height="6.6" fill="#4d4d4d"/>
<text transform="translate(758.70 714.67) rotate(59.167)" y="4.65" class="val">720</text>
<text transform="translate(689.76 656.31) rotate(65.000)" y="4.97" text-anchor="end" class="lab">OQ825958</text>
<rect transform="translate(568.0 395.2) rotate(65.000)" x="306.7" y="-3.3" width="59.42" height="6.6" fill="#4d4d4d"/>
<text transform="translate(723.24 728.11) rotate(65.000)" y="4.65" class="val">674</text>
<text transform="translate(662.59 667.33) rotate(70.833)" y="4.97" text-anchor="end" class="lab">MT423727</text>
<rect transform="translate(568.0 395.2) rotate(70.833)" x="306.7" y="-3.3" width="98.56" height="6.6" fill="#4d4d4d"/>
<text transform="translate(701.45 779.13) rotate(70.833)" y="4.65" class="val">1054</text>
<text transform="translate(634.44 675.53) rotate(76.667)" y="4.97" text-anchor="end" class="lab">AB193649</text>
<rect transform="translate(568.0 395.2) rotate(76.667)" x="306.7" y="-3.3" width="76.31" height="6.6" fill="#4d4d4d"/>
<text transform="translate(656.61 769.06) rotate(76.667)" y="4.65" class="val">838</text>
<text transform="translate(605.60 680.84) rotate(82.500)" y="4.97" text-anchor="end" class="lab">KT155778</text>
<rect transform="translate(568.0 395.2) rotate(82.500)" x="306.7" y="-3.3" width="51.39" height="6.6" fill="#4d4d4d"/>
<text transform="translate(614.90 751.41) rotate(82.500)" y="4.65" class="val">596</text>
<text transform="translate(576.38 683.18) rotate(88.333)" y="4.97" text-anchor="end" class="lab">ON841657</text>
<rect transform="translate(568.0 395.2) rotate(88.333)" x="306.7" y="-3.3" width="58.70" height="6.6" fill="#4d4d4d"/>
<text transform="translate(578.66 761.65) rotate(88.333)" y="4.65" class="val">667</text>
<text transform="translate(547.07 682.54) rotate(274.167)" y="4.97" class="lab">MT487850</text>
<rect transform="translate(568.0 395.2) rotate(94.167)" x="306.7" y="-3.3" width="64.16" height="6.6" fill="#4d4d4d"/>
<text transform="translate(540.97 766.28) rotate(274.167)" y="4.65" text-anchor="end" class="val">720</text>
<text transform="translate(517.97 678.92) rotate(280.000)" y="4.97" class="lab">OW985344</text>
<rect transform="translate(568.0 395.2) rotate(100.000)" x="306.7" y="-3.3" width="62.41" height="6.6" fill="#4d4d4d"/>
<text transform="translate(503.70 759.88) rotate(280.000)" y="4.65" text-anchor="end" class="val">703</text>
<text transform="translate(489.39 672.37) rotate(285.833)" y="4.97" class="lab">MT787286</text>
<rect transform="translate(568.0 395.2) rotate(105.833)" x="306.7" y="-3.3" width="88.36" height="6.6" fill="#4d4d4d"/>
<text transform="translate(459.88 776.43) rotate(285.833)" y="4.65" text-anchor="end" class="val">955</text>
<text transform="translate(461.63 662.95) rotate(291.667)" y="4.97" class="lab">OW988230</text>
<rect transform="translate(568.0 395.2) rotate(111.667)" x="306.7" y="-3.3" width="65.70" height="6.6" fill="#4d4d4d"/>
<text transform="translate(430.06 742.41) rotate(291.667)" y="4.65" text-anchor="end" class="val">735</text>
<text transform="translate(434.97 650.75) rotate(297.500)" y="4.97" class="lab">AB193610</text>
<rect transform="translate(568.0 395.2) rotate(117.500)" x="306.7" y="-3.3" width="68.49" height="6.6" fill="#4d4d4d"/>
<text transform="translate(394.20 729.06) rotate(297.500)" y="4.65" text-anchor="end" class="val">762</text>
<text transform="translate(409.69 635.90) rotate(303.333)" y="4.97" class="lab">JN134110</text>
<rect transform="translate(568.0 395.2) rotate(123.333)" x="306.7" y="-3.3" width="65.91" height="6.6" fill="#4d4d4d"/>
<text transform="translate(362.59 707.51) rotate(303.333)" y="4.65" text-anchor="end" class="val">737</text>
<text transform="translate(386.04 618.57) rotate(309.167)" y="4.97" class="lab">JQ922463</text>
<rect transform="translate(568.0 395.2) rotate(129.167)" x="306.7" y="-3.3" width="64.98" height="6.6" fill="#4d4d4d"/>
<text transform="translate(332.49 684.30) rotate(309.167)" y="4.65" text-anchor="end" class="val">728</text>
<text transform="translate(364.28 598.92) rotate(315.000)" y="4.97" class="lab">MG711644</text>
<rect transform="translate(568.0 395.2) rotate(135.000)" x="306.7" y="-3.3" width="58.49" height="6.6" fill="#4d4d4d"/>
<text transform="translate(308.92 654.28) rotate(315.000)" y="4.65" text-anchor="end" class="val">665</text>
<text transform="translate(344.63 577.16) rotate(320.833)" y="4.97" class="lab">MH862931</text>
<rect transform="translate(568.0 395.2) rotate(140.833)" x="306.7" y="-3.3" width="63.23" height="6.6" fill="#4d4d4d"/>
<text transform="translate(280.26 629.60) rotate(320.833)" y="4.65" text-anchor="end" class="val">711</text>
<text transform="translate(327.30 553.51) rotate(326.667)" y="4.97" class="lab">KT155780</text>
<rect transform="translate(568.0 395.2) rotate(146.667)" x="306.7" y="-3.3" width="53.55" height="6.6" fill="#4d4d4d"/>
<text transform="translate(266.01 593.82) rotate(326.667)" y="4.65" text-anchor="end" class="val">617</text>
<text transform="translate(312.45 528.23) rotate(332.500)" y="4.97" class="lab">EF568060</text>
<rect transform="translate(568.0 395.2) rotate(152.500)" x="306.7" y="-3.3" width="61.58" height="6.6" fill="#4d4d4d"/>
<text transform="translate(240.26 565.81) rotate(332.500)" y="4.65" text-anchor="end" class="val">695</text>
<text transform="translate(300.25 501.57) rotate(338.333)" y="4.97" class="lab">ON221378</text>
<rect transform="translate(568.0 395.2) rotate(158.333)" x="306.7" y="-3.3" width="43.56" height="6.6" fill="#4d4d4d"/>
<text transform="translate(241.37 524.96) rotate(338.333)" y="4.65" text-anchor="end" class="val">520</text>
<text transform="translate(290.83 473.81) rotate(344.167)" y="4.97" class="lab">MW811376</text>
<rect transform="translate(568.0 395.2) rotate(164.167)" x="306.7" y="-3.3" width="60.25" height="6.6" fill="#4d4d4d"/>
<text transform="translate(213.82 495.64) rotate(344.167)" y="4.65" text-anchor="end" class="val">682</text>
<text transform="translate(284.28 445.23) rotate(350.000)" y="4.97" class="lab">KT155837</text>
<rect transform="translate(568.0 395.2) rotate(170.000)" x="306.7" y="-3.3" width="62.31" height="6.6" fill="#4d4d4d"/>
<text transform="translate(203.42 459.49) rotate(350.000)" y="4.65" text-anchor="end" class="val">702</text>
</g>
<g>
<text x="5" y="30.3" class="ts">Tree scale : 0.1</text>
<line x1="101.4" y1="27.1" x2="211.5" y2="27.1" stroke="#707070" stroke-width="1.1"/>
<rect x="3.6" y="54.5" width="96" height="219.7" fill="#fff" stroke="#ececec" stroke-width="1"/>
<text x="9.3" y="75.4" class="lt">bootstrap</text>
<line x1="7.2" y1="85.7" x2="96" y2="85.7" stroke="#8a8a8a" stroke-width="1"/>
<rect x="9.5" y="94.30" width="24.3" height="24" fill="#ff0000" stroke="#501010" stroke-opacity="0.7" stroke-width="0.9"/>
<text x="45.9" y="111.60" class="ll">0</text>
<rect x="9.5" y="130.75" width="24.3" height="24" fill="#bf0040" stroke="#501010" stroke-opacity="0.7" stroke-width="0.9"/>
<text x="45.9" y="148.05" class="ll">0.22</text>
<rect x="9.5" y="167.20" width="24.3" height="24" fill="#800080" stroke="#501010" stroke-opacity="0.7" stroke-width="0.9"/>
<text x="45.9" y="184.50" class="ll">0.45</text>
<rect x="9.5" y="203.65" width="24.3" height="24" fill="#4000bf" stroke="#501010" stroke-opacity="0.7" stroke-width="0.9"/>
<text x="45.9" y="220.95" class="ll">0.67</text>
<rect x="9.5" y="240.10" width="24.3" height="24" fill="#0000ff" stroke="#501010" stroke-opacity="0.7" stroke-width="0.9"/>
<text x="45.9" y="257.40" class="ll">0.89</text>
</g>
</svg>
</body></html>
